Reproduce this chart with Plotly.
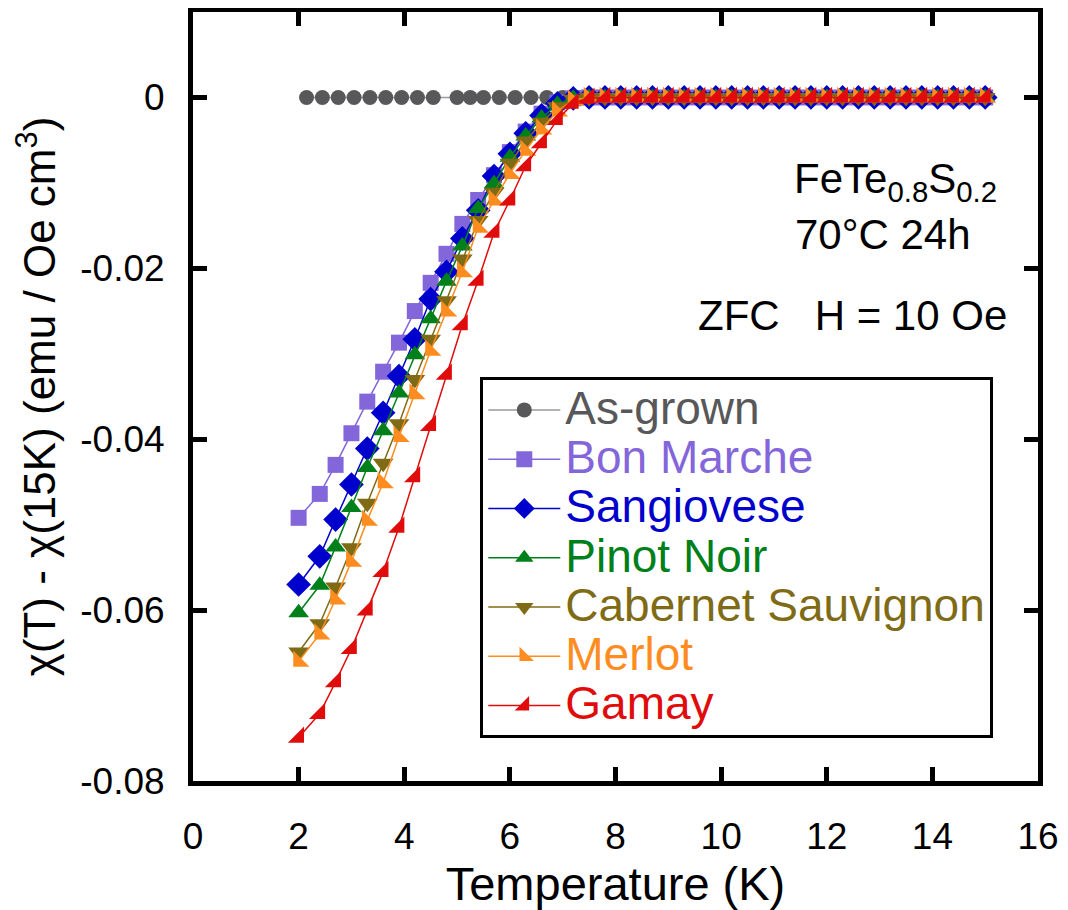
import plotly.graph_objects as go

# Temperatures (K) for the annealed samples
T = [2.0, 2.4, 2.7, 3.0, 3.3, 3.6, 3.9, 4.2, 4.5, 4.8, 5.1, 5.4, 5.7, 6.0, 6.3,
     6.6, 6.9, 7.2, 7.5, 7.8, 8.1, 8.4, 8.7, 9.0, 9.3, 9.6, 9.9, 10.2, 10.5,
     10.8, 11.1, 11.4, 11.7, 12.0, 12.3, 12.6, 12.9, 13.2, 13.5, 13.8, 14.1,
     14.4, 14.7, 15.0]

# Temperatures (K) for the as-grown sample
T_asgrown = [2.15, 2.45, 2.75, 3.05, 3.35, 3.65, 3.95, 4.25, 4.55, 5.0, 5.25,
             5.5, 5.8, 6.1, 6.4, 6.7, 7.0, 7.3, 7.6, 7.9, 8.2, 8.5, 8.8, 9.1,
             9.4, 9.7, 10.0, 10.3, 10.6, 10.9, 11.2, 11.5, 11.8, 12.1, 12.4,
             12.7, 13.0, 13.3, 13.6, 13.9, 14.2, 14.5, 14.8]

as_grown = [0.0, 0.0, 0.0, 0.0, 0.0, 0.0, 0.0, 0.0, 0.0, 0.0, 0.0, 0.0, 0.0,
            0.0, 0.0, 0.0, 0.0, 0.0, 0.0, 0.0, 0.0, 0.0, 0.0, 0.0, 0.0, 0.0,
            0.0, 0.0, 0.0, 0.0, 0.0, 0.0, 0.0, 0.0, 0.0, 0.0, 0.0, 0.0, 0.0,
            0.0, 0.0, 0.0, 0.0]

bon_marche = [-0.0492, -0.0464, -0.0430, -0.0393, -0.0356, -0.0321, -0.0287,
              -0.0250, -0.0217, -0.0183, -0.0148, -0.0120, -0.0091, -0.0064,
              -0.0040, -0.0019, -0.0006, -0.0001, 0.0, 0.0, 0.0, 0.0, 0.0, 0.0,
              0.0, 0.0, 0.0, 0.0, 0.0, 0.0, 0.0, 0.0, 0.0, 0.0, 0.0, 0.0,
              0.0, 0.0, 0.0, 0.0, 0.0, 0.0, 0.0, 0.0]

sangiovese = [-0.0570, -0.0537, -0.0494, -0.0453, -0.0411, -0.0369, -0.0326,
              -0.0283, -0.0236, -0.0204, -0.0165, -0.0132, -0.0092, -0.0066,
              -0.0042, -0.0021, -0.0007, -0.0001, 0.0, 0.0, 0.0, 0.0, 0.0, 0.0,
              0.0, 0.0, 0.0, 0.0, 0.0, 0.0, 0.0, 0.0, 0.0, 0.0, 0.0, 0.0,
              0.0, 0.0, 0.0, 0.0, 0.0, 0.0, 0.0, 0.0]

pinot_noir = [-0.0603, -0.0571, -0.0526, -0.0480, -0.0433, -0.0390, -0.0346,
              -0.0301, -0.0259, -0.0215, -0.0174, -0.0130, -0.0101, -0.0070,
              -0.0045, -0.0024, -0.0008, -0.0001, 0.0, 0.0, 0.0, 0.0, 0.0, 0.0,
              0.0, 0.0, 0.0, 0.0, 0.0, 0.0, 0.0, 0.0, 0.0, 0.0, 0.0, 0.0,
              0.0, 0.0, 0.0, 0.0, 0.0, 0.0, 0.0, 0.0]

cabernet = [-0.0649, -0.0616, -0.0573, -0.0527, -0.0475, -0.0428, -0.0382,
            -0.0330, -0.0283, -0.0238, -0.0189, -0.0144, -0.0111, -0.0077,
            -0.0051, -0.0029, -0.0011, -0.0002, 0.0, 0.0, 0.0, 0.0, 0.0, 0.0,
            0.0, 0.0, 0.0, 0.0, 0.0, 0.0, 0.0, 0.0, 0.0, 0.0, 0.0, 0.0,
            0.0, 0.0, 0.0, 0.0, 0.0, 0.0, 0.0, 0.0]

merlot = [-0.0660, -0.0628, -0.0587, -0.0543, -0.0495, -0.0451, -0.0397,
          -0.0347, -0.0296, -0.0250, -0.0204, -0.0152, -0.0120, -0.0089,
          -0.0062, -0.0037, -0.0016, -0.0003, 0.0, 0.0, 0.0, 0.0, 0.0, 0.0,
          0.0, 0.0, 0.0, 0.0, 0.0, 0.0, 0.0, 0.0, 0.0, 0.0, 0.0, 0.0,
          0.0, 0.0, 0.0, 0.0, 0.0, 0.0, 0.0, 0.0]

gamay = [-0.0749, -0.0721, -0.0684, -0.0645, -0.0600, -0.0555, -0.0503,
         -0.0444, -0.0384, -0.0324, -0.0266, -0.0214, -0.0158, -0.0120,
         -0.0080, -0.0053, -0.0026, -0.0007, -0.0001, 0.0, 0.0, 0.0, 0.0, 0.0,
         0.0, 0.0, 0.0, 0.0, 0.0, 0.0, 0.0, 0.0, 0.0, 0.0, 0.0, 0.0,
         0.0, 0.0, 0.0, 0.0, 0.0, 0.0, 0.0, 0.0]

x_ticks = [0, 2, 4, 6, 8, 10, 12, 14, 16]
y_ticks = [0, -0.02, -0.04, -0.06, -0.08]
y_tick_labels = ["0", "-0.02", "-0.04", "-0.06", "-0.08"]

series = [
    ("As-grown", T_asgrown, as_grown, "#58585a", "#9a9a9a", "circle", 15),
    ("Bon Marche", T, bon_marche, "#8466db", "#8466db", "square", 16),
    ("Sangiovese", T, sangiovese, "#0000cc", "#0000cc", "diamond", 19),
    ("Pinot Noir", T, pinot_noir, "#00801a", "#00801a", "triangle-up", 18),
    ("Cabernet Sauvignon", T, cabernet, "#7f6b16", "#7f6b16", "triangle-down", 18),
    ("Merlot", T, merlot, "#ff8c1e", "#ff8c1e", "triangle-sw", 18),
    ("Gamay", T, gamay, "#e00c0c", "#e00c0c", "triangle-se", 18),
]

FONT = "Liberation Sans, Arial, sans-serif"

fig = go.Figure()
for name, xs, ys, mcol, lcol, sym, size in series:
    fig.add_trace(go.Scatter(
        x=xs, y=ys, mode="lines+markers",
        name='<span style="color:%s;font-size:46px">%s</span>' % (mcol, name),
        line=dict(color=lcol, width=1.5),
        marker=dict(symbol=sym, size=size, color=mcol, line=dict(width=0)),
    ))

fig.add_annotation(x=13.3, y=-0.0098, xref="x", yref="y",
                   text="FeTe<sub>0.8</sub>S<sub>0.2</sub>", showarrow=False,
                   font=dict(family=FONT, size=42, color="black"))
fig.add_annotation(x=13.07, y=-0.0160, xref="x", yref="y",
                   text="70°C 24h", showarrow=False,
                   font=dict(family=FONT, size=42, color="black"))
fig.add_annotation(x=12.48, y=-0.0255, xref="x", yref="y",
                   text="ZFC   H = 10 Oe", showarrow=False,
                   font=dict(family=FONT, size=42, color="black"))

axis_common = dict(
    showline=True, linecolor="black", linewidth=5, mirror="ticks",
    ticks="inside", ticklen=14, tickwidth=5, tickcolor="black",
    showgrid=False, zeroline=False, automargin=False,
    tickfont=dict(family=FONT, size=37, color="black"),
)

# the page adds an 8 px body margin, so the figure is sized to compensate
fig.update_layout(
    width=1060, height=902,
    margin=dict(l=185, r=30, t=4, b=129),
    paper_bgcolor="white", plot_bgcolor="white",
    font=dict(family=FONT, color="black"),
    showlegend=True,
    legend=dict(
        x=0.34, y=0.525, xanchor="left", yanchor="top",
        bgcolor="white", bordercolor="black", borderwidth=3,
        font=dict(family=FONT, size=35.6, color="black"),
        itemwidth=72, tracegroupgap=0,
    ),
    xaxis=dict(
        range=[0, 16], tickvals=x_ticks, ticklabelstandoff=19,
        title=dict(text="Temperature (K)", font=dict(family=FONT, size=47), standoff=8),
        **axis_common,
    ),
    yaxis=dict(
        range=[-0.08, 0.01], tickvals=y_ticks, ticktext=y_tick_labels,
        ticklabelstandoff=16,
        title=dict(text="χ(T) - χ(15K) (emu / Oe cm<sup>3</sup>)",
                   font=dict(family=FONT, size=44), standoff=12),
        **axis_common,
    ),
)

fig.write_html("out.html")
